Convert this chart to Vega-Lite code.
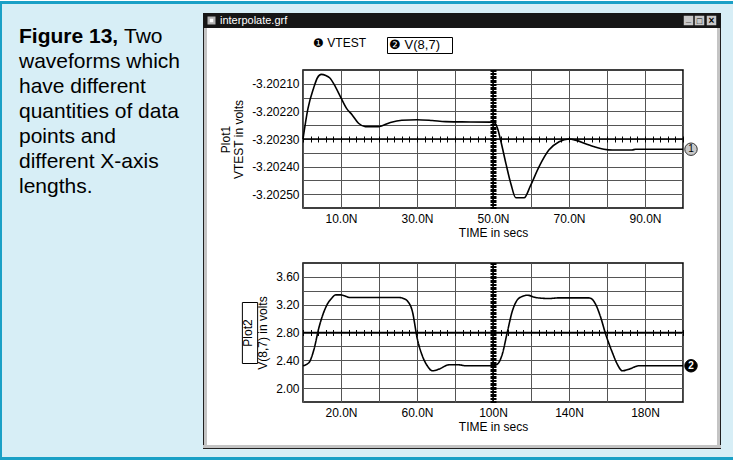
{
 "$schema": "https://vega.github.io/schema/vega-lite/v6.json",
 "background": "#ffffff",
 "padding": {"left": 0, "top": 1, "right": 0, "bottom": 2},
 "autosize": {"type": "pad"},
 "spacing": 0,
 "config": {
  "view": {"stroke": null},
  "concat": {"spacing": 0},
  "font": "Liberation Sans",
  "axis": {"labelColor": "#000", "titleColor": "#000", "labelFont": "Liberation Sans", "titleFont": "Liberation Sans", "labelFontSize": 12, "titleFontSize": 12, "titleFontWeight": "normal", "gridColor": "#555555", "gridOpacity": 1, "gridWidth": 1, "domain": false, "ticks": false, "tickSize": 0, "labelOverlap": false, "labelFlush": false},
  "legend": {"labelFont": "Liberation Sans", "labelFontSize": 12, "labelColor": "#000"}
 },
 "datasets": {
  "vtest": [
   {"time": 0, "vtest": -3.2023}, {"time": 1.3, "vtest": -3.20219}, {"time": 2.8, "vtest": -3.202115}, {"time": 3.8, "vtest": -3.202078},
   {"time": 4.8, "vtest": -3.202066}, {"time": 6.0, "vtest": -3.20207}, {"time": 7.0, "vtest": -3.202078}, {"time": 8.5, "vtest": -3.20211},
   {"time": 10, "vtest": -3.202151}, {"time": 11.5, "vtest": -3.20219}, {"time": 12.9, "vtest": -3.202212}, {"time": 14.6, "vtest": -3.202243},
   {"time": 16.4, "vtest": -3.202255}, {"time": 19.9, "vtest": -3.202255}, {"time": 23, "vtest": -3.20224}, {"time": 26, "vtest": -3.202232},
   {"time": 30, "vtest": -3.20223}, {"time": 34, "vtest": -3.202233}, {"time": 37.5, "vtest": -3.202237}, {"time": 41.8, "vtest": -3.202238},
   {"time": 49.5, "vtest": -3.202239}, {"time": 50.5, "vtest": -3.202242}, {"time": 51.2, "vtest": -3.202262}, {"time": 52.1, "vtest": -3.20231},
   {"time": 53.4, "vtest": -3.202389}, {"time": 54.7, "vtest": -3.202462}, {"time": 56, "vtest": -3.202513}, {"time": 58.2, "vtest": -3.202513},
   {"time": 59.9, "vtest": -3.202468}, {"time": 62.1, "vtest": -3.202401}, {"time": 64.7, "vtest": -3.20234}, {"time": 67.4, "vtest": -3.20231},
   {"time": 70, "vtest": -3.2023}, {"time": 71.7, "vtest": -3.202304}, {"time": 75.3, "vtest": -3.202322}, {"time": 79.2, "vtest": -3.202337},
   {"time": 81.4, "vtest": -3.20234}, {"time": 86.6, "vtest": -3.20234}, {"time": 87.5, "vtest": -3.202337}, {"time": 100, "vtest": -3.202337}
  ],
  "v87": [
   {"time": 0, "v87": 2.321}, {"time": 3.2, "v87": 2.369}, {"time": 5.8, "v87": 2.56}, {"time": 8.4, "v87": 2.872},
   {"time": 10.5, "v87": 3.06}, {"time": 12.8, "v87": 3.207}, {"time": 15, "v87": 3.29}, {"time": 17.2, "v87": 3.341},
   {"time": 19.8, "v87": 3.341}, {"time": 25.1, "v87": 3.303}, {"time": 33, "v87": 3.303}, {"time": 50.5, "v87": 3.303},
   {"time": 52.8, "v87": 3.29}, {"time": 54.9, "v87": 3.255}, {"time": 57.5, "v87": 3.111}, {"time": 60.2, "v87": 2.704},
   {"time": 62.8, "v87": 2.465}, {"time": 65.4, "v87": 2.321}, {"time": 68.1, "v87": 2.249}, {"time": 71.6, "v87": 2.273},
   {"time": 76.8, "v87": 2.335}, {"time": 82.1, "v87": 2.335}, {"time": 85.6, "v87": 2.321}, {"time": 99.6, "v87": 2.321},
   {"time": 102.3, "v87": 2.345}, {"time": 104.9, "v87": 2.489}, {"time": 107.5, "v87": 2.8}, {"time": 110.2, "v87": 3.111},
   {"time": 112.8, "v87": 3.269}, {"time": 115.5, "v87": 3.32}, {"time": 118.1, "v87": 3.337}, {"time": 122.5, "v87": 3.303},
   {"time": 129.5, "v87": 3.289}, {"time": 134.7, "v87": 3.298}, {"time": 150.5, "v87": 3.298}, {"time": 152.5, "v87": 3.27},
   {"time": 154, "v87": 3.207}, {"time": 156.7, "v87": 3.016}, {"time": 159.3, "v87": 2.776}, {"time": 162.8, "v87": 2.513},
   {"time": 165.4, "v87": 2.345}, {"time": 168.1, "v87": 2.249}, {"time": 171.6, "v87": 2.273}, {"time": 176.8, "v87": 2.321},
   {"time": 200, "v87": 2.321}
  ]
 },
 "vconcat": [
  {"width": 733, "height": 3, "view": {"fill": "#1aa0c6"}, "data": {"values": [{}]}, "mark": {"type": "rect", "opacity": 0}},
  {"spacing": 0, "hconcat": [
   {"width": 2, "height": 453, "view": {"fill": "#1aa0c6"}, "data": {"values": [{}]}, "mark": {"type": "rect", "opacity": 0}},
   {"width": 201, "height": 453, "view": {"fill": "#d7eef6"},
    "data": {"values": [
     {"line": 0, "text": "Figure 13,", "role": "label"},
     {"line": 0, "text": "Two", "role": "label-rest"},
     {"line": 1, "text": "waveforms which", "role": "body"},
     {"line": 2, "text": "have different", "role": "body"},
     {"line": 3, "text": "quantities of data", "role": "body"},
     {"line": 4, "text": "points and", "role": "body"},
     {"line": 5, "text": "different X-axis", "role": "body"},
     {"line": 6, "text": "lengths.", "role": "body"}
    ]},
    "encoding": {
     "y": {"field": "line", "type": "quantitative", "axis": null, "scale": {"domain": [-1.56, 16.56], "reverse": true, "nice": false, "zero": false}},
     "x": {"datum": 0, "type": "quantitative", "axis": null, "scale": {"domain": [0, 1], "nice": false}},
     "text": {"field": "text", "type": "nominal"}
    },
    "layer": [
     {"transform": [{"filter": "datum.role == 'label'"}], "mark": {"type": "text", "align": "left", "baseline": "alphabetic", "dx": 17, "fontSize": 21, "fontWeight": "bold", "font": "Liberation Sans", "color": "#000"}},
     {"transform": [{"filter": "datum.role == 'label-rest'"}], "mark": {"type": "text", "align": "left", "baseline": "alphabetic", "dx": 122, "fontSize": 21, "font": "Liberation Sans", "color": "#000"}},
     {"transform": [{"filter": "datum.role == 'body'"}], "mark": {"type": "text", "align": "left", "baseline": "alphabetic", "dx": 17, "fontSize": 21, "font": "Liberation Sans", "color": "#000"}}
    ]
   },
   {"spacing": 0, "vconcat": [
    {"width": 518, "height": 9, "view": {"fill": "#d7eef6"}, "data": {"values": [{}]}, "mark": {"type": "rect", "opacity": 0}},
    {"bounds": "flush", "spacing": 0, "hconcat": [
     {"width": 17, "height": 15, "view": {"fill": "#161616"}, "data": {"values": [{}]}, "layer": [
      {"mark": {"type": "point", "shape": "square", "filled": true, "size": 64, "color": "#b4b4b4", "opacity": 1}},
      {"mark": {"type": "point", "shape": "square", "filled": true, "size": 12, "color": "#ffffff", "opacity": 1}}
     ]},
     {"width": 463, "height": 15, "view": {"fill": "#161616"}, "data": {"values": [{"title": "interpolate.grf"}]},
      "mark": {"type": "text", "align": "left", "baseline": "middle", "fontSize": 11, "color": "#ffffff", "font": "Liberation Sans"},
      "encoding": {"text": {"field": "title", "type": "nominal"}, "x": {"datum": 0, "type": "quantitative", "axis": null, "scale": {"domain": [0, 1], "nice": false}}}},
     {"width": 11, "height": 15, "view": {"fill": "#161616"}, "data": {"values": [{}]}, "layer": [
      {"mark": {"type": "point", "shape": "square", "filled": true, "size": 90, "color": "#c8c8c8", "opacity": 1}},
      {"mark": {"type": "text", "text": "_", "fontSize": 9, "fontWeight": "bold", "color": "#000", "dy": -2}}
     ]},
     {"width": 11, "height": 15, "view": {"fill": "#161616"}, "data": {"values": [{}]}, "layer": [
      {"mark": {"type": "point", "shape": "square", "filled": true, "size": 90, "color": "#c8c8c8", "opacity": 1}},
      {"mark": {"type": "text", "text": "□", "fontSize": 9, "color": "#000"}}
     ]},
     {"width": 13, "height": 15, "view": {"fill": "#161616"}, "data": {"values": [{}]}, "layer": [
      {"mark": {"type": "point", "shape": "square", "filled": true, "size": 90, "color": "#c8c8c8", "opacity": 1}},
      {"mark": {"type": "text", "text": "×", "fontSize": 10, "fontWeight": "bold", "color": "#000"}}
     ]},
     {"width": 3, "height": 15, "view": {"fill": "#161616"}, "data": {"values": [{}]}, "mark": {"type": "rect", "opacity": 0}}
    ]},
    {"spacing": 0, "hconcat": [
     {"width": 1, "height": 417, "view": {"fill": "#202020"}, "data": {"values": [{}]}, "mark": {"type": "rect", "opacity": 0}},
     {"width": 3, "height": 417, "view": {"fill": "#c4c4c4"}, "data": {"values": [{}]}, "mark": {"type": "rect", "opacity": 0}},
     {"bounds": "flush", "spacing": 0, "columns": 4, "concat": [
      {"width": 96, "height": 42, "data": {"values": [{}]}, "mark": {"type": "rect", "opacity": 0}},
      {"width": 380, "height": 42, "data": {"values": [{}]}, "mark": {"type": "rect", "opacity": 0}},
      {"width": 16, "height": 42, "data": {"values": [{}]}, "mark": {"type": "rect", "opacity": 0}},
      {"width": 18, "height": 42, "data": {"values": [{}]}, "mark": {"type": "rect", "opacity": 0}},

      {"width": 96, "height": 138, "data": {"values": [{}]}, "mark": {"type": "rule", "opacity": 0},
       "encoding": {"y": {"datum": -3.2023, "type": "quantitative", "scale": {"domain": [-3.20255, -3.20205], "nice": false, "zero": false},
        "axis": {"orient": "left", "offset": -96, "values": [-3.2025, -3.2024, -3.2023, -3.2022, -3.2021], "labelExpr": "replace(format(datum.value, '.5f'), '\u2212', '-')", "labelPadding": 4, "title": ["Plot1", "VTEST in volts"], "titlePadding": 6, "titleLineHeight": 13, "grid": false}}}},
      {"width": 380, "height": 138,
       "view": {"stroke": "#000", "strokeWidth": 1.5},
       "resolve": {"axis": {"x": "independent", "y": "independent"}},
       "layer": [
        {"data": {"name": "vtest"},
         "mark": {"type": "line", "strokeWidth": 1.6, "interpolate": "monotone"},
         "encoding": {
          "x": {"field": "time", "type": "quantitative", "scale": {"domain": [0, 100], "nice": false, "zero": false},
                "axis": {"orient": "bottom", "values": [0, 10, 20, 30, 40, 50, 60, 70, 80, 90, 100], "grid": true, "labels": false, "title": null}},
          "y": {"field": "vtest", "type": "quantitative", "scale": {"domain": [-3.20255, -3.20205], "nice": false, "zero": false},
                "axis": {"orient": "left", "values": [-3.2025, -3.20245, -3.2024, -3.20235, -3.2023, -3.20225, -3.2022, -3.20215, -3.2021], "grid": true, "labels": false, "title": null}},
          "color": {"datum": "VTEST", "type": "nominal", "scale": {"range": ["#000000"]},
                    "legend": {"orient": "none", "legendX": 313, "legendY": 36, "title": null, "symbolSize": 0, "symbolOpacity": 0, "symbolStrokeWidth": 0, "labelOffset": -12, "padding": 0, "labelFontSize": 12, "labelExpr": "'❶ ' + datum.label"}}
         }},
        {"data": {"values": [{}]}, "mark": {"type": "rule", "color": "#000", "strokeWidth": 1.5},
         "encoding": {"y": {"datum": -3.2023, "type": "quantitative",
           "axis": {"orient": "left", "offset": -193, "ticks": true, "tickSize": 6, "tickCount": 100, "tickColor": "#000", "tickWidth": 1, "labels": false, "grid": false, "domain": false, "title": null, "zindex": 1}}}},
        {"data": {"values": [{}]}, "mark": {"type": "rule", "color": "#000", "strokeWidth": 1.5},
         "encoding": {"x": {"datum": 50, "type": "quantitative",
           "axis": {"orient": "bottom", "offset": -72, "ticks": true, "tickSize": 6, "tickCount": 50, "tickColor": "#000", "tickWidth": 1, "labels": false, "grid": false, "domain": false, "title": null, "zindex": 1}}}}
       ]
      },
      {"width": 16, "height": 138, "data": {"name": "vtest"}, "transform": [{"filter": "datum.time == 100"}],
       "encoding": {"y": {"field": "vtest", "type": "quantitative", "scale": {"domain": [-3.20255, -3.20205], "nice": false, "zero": false}, "axis": null}},
       "layer": [
        {"mark": {"type": "point", "filled": true, "size": 155, "fill": "#c8c8c8", "stroke": "#333333", "strokeWidth": 1, "opacity": 1}},
        {"mark": {"type": "text", "text": "1", "fontSize": 10, "color": "#000"}}
       ]},
      {"width": 18, "height": 138, "data": {"values": [{}]}, "mark": {"type": "rect", "opacity": 0}},

      {"width": 96, "height": 55, "data": {"values": [{}]}, "mark": {"type": "rect", "opacity": 0}},
      {"width": 380, "height": 55, "data": {"values": [{}]}, "mark": {"type": "rule", "opacity": 0},
       "encoding": {"x": {"datum": 50, "type": "quantitative", "scale": {"domain": [0, 100], "nice": false, "zero": false},
        "axis": {"orient": "bottom", "offset": -55, "values": [10, 30, 50, 70, 90], "labelExpr": "format(datum.value, '.3r') + 'N'", "labelPadding": 5, "title": "TIME in secs", "titlePadding": 3, "grid": false}}}},
      {"width": 16, "height": 55, "data": {"values": [{}]}, "mark": {"type": "rect", "opacity": 0}},
      {"width": 18, "height": 55, "data": {"values": [{}]}, "mark": {"type": "rect", "opacity": 0}},

      {"width": 96, "height": 139, "data": {"values": [{}]}, "mark": {"type": "rule", "opacity": 0},
       "encoding": {"y": {"datum": 2.8, "type": "quantitative", "scale": {"domain": [1.8, 3.8], "nice": false, "zero": false},
        "axis": {"orient": "left", "offset": -96, "values": [2, 2.4, 2.8, 3.2, 3.6], "labelExpr": "format(datum.value, '.2f')", "labelPadding": 4, "title": ["Plot2", "V(8,7) in volts"], "titlePadding": 6, "titleLineHeight": 15, "grid": false}}}},
      {"width": 380, "height": 139,
       "view": {"stroke": "#000", "strokeWidth": 1.5},
       "resolve": {"axis": {"x": "independent", "y": "independent"}},
       "layer": [
        {"data": {"name": "v87"},
         "mark": {"type": "line", "strokeWidth": 1.6, "interpolate": "monotone", "color": "#000"},
         "encoding": {
          "x": {"field": "time", "type": "quantitative", "scale": {"domain": [0, 200], "nice": false, "zero": false},
                "axis": {"orient": "bottom", "values": [0, 20, 40, 60, 80, 100, 120, 140, 160, 180, 200], "grid": true, "labels": false, "title": null}},
          "y": {"field": "v87", "type": "quantitative", "scale": {"domain": [1.8, 3.8], "nice": false, "zero": false},
                "axis": {"orient": "left", "values": [2, 2.2, 2.4, 2.6, 2.8, 3, 3.2, 3.4, 3.6], "grid": true, "labels": false, "title": null}},
          "strokeDash": {"datum": "V(8,7)", "type": "nominal", "scale": {"range": [[1, 0]]},
                    "legend": {"orient": "none", "legendX": 387, "legendY": 36, "title": null, "strokeColor": "#000", "padding": 1, "symbolSize": 0, "symbolOpacity": 0, "symbolStrokeWidth": 0, "labelOffset": -12, "labelFontSize": 13, "labelExpr": "'❷ ' + datum.label + '\u2800'"}}
         }},
        {"data": {"values": [{}]}, "mark": {"type": "rule", "color": "#000", "strokeWidth": 1.5},
         "encoding": {"y": {"datum": 2.8, "type": "quantitative",
           "axis": {"orient": "left", "offset": -193, "ticks": true, "tickSize": 6, "tickCount": 100, "tickColor": "#000", "tickWidth": 1, "labels": false, "grid": false, "domain": false, "title": null, "zindex": 1}}}},
        {"data": {"values": [{}]}, "mark": {"type": "rule", "color": "#000", "strokeWidth": 1.5},
         "encoding": {"x": {"datum": 100, "type": "quantitative",
           "axis": {"orient": "bottom", "offset": -72.5, "ticks": true, "tickSize": 6, "values": [0,4,8,12,16,20,24,28,32,36,40,44,48,52,56,60,64,68,72,76,80,84,88,92,96,100,104,108,112,116,120,124,128,132,136,140,144,148,152,156,160,164,168,172,176,180,184,188,192,196,200], "tickColor": "#000", "tickWidth": 1, "labels": false, "grid": false, "domain": false, "title": null, "zindex": 1}}}}
       ]
      },
      {"width": 16, "height": 139, "data": {"name": "v87"}, "transform": [{"filter": "datum.time == 200"}],
       "encoding": {"y": {"field": "v87", "type": "quantitative", "scale": {"domain": [1.8, 3.8], "nice": false, "zero": false}, "axis": null}},
       "layer": [
        {"mark": {"type": "point", "filled": true, "size": 155, "fill": "#000", "stroke": "#000", "strokeWidth": 1, "opacity": 1}},
        {"mark": {"type": "text", "text": "2", "fontSize": 10, "fontWeight": "bold", "color": "#fff"}},
        {"mark": {"type": "point", "filled": false, "color": "#000", "opacity": 0},
         "encoding": {"strokeWidth": {"datum": "Plot2", "type": "ordinal", "scale": {"range": [1, 1]},
          "legend": {"orient": "none", "legendX": 219, "legendY": 301, "title": null, "labelExpr": "''", "symbolType": "M-0.25,-1L0.25,-1L0.25,1L-0.25,1Z", "symbolSize": 3721, "symbolFillColor": "transparent", "symbolStrokeColor": "#000", "symbolOpacity": 1, "labelOffset": 0, "padding": 0}}}}
       ]},
      {"width": 18, "height": 139, "data": {"values": [{}]}, "mark": {"type": "rect", "opacity": 0}},

      {"width": 96, "height": 43, "data": {"values": [{}]}, "mark": {"type": "rect", "opacity": 0}},
      {"width": 380, "height": 43, "data": {"values": [{}]}, "mark": {"type": "rule", "opacity": 0},
       "encoding": {"x": {"datum": 100, "type": "quantitative", "scale": {"domain": [0, 200], "nice": false, "zero": false},
        "axis": {"orient": "bottom", "offset": -43, "values": [20, 60, 100, 140, 180], "labelExpr": "format(datum.value, '.3r') + 'N'", "labelPadding": 5, "title": "TIME in secs", "titlePadding": 3, "grid": false}}}},
      {"width": 16, "height": 43, "data": {"values": [{}]}, "mark": {"type": "rect", "opacity": 0}},
      {"width": 18, "height": 43, "data": {"values": [{}]}, "mark": {"type": "rect", "opacity": 0}}
     ]},
     {"width": 3, "height": 417, "view": {"fill": "#c4c4c4"}, "data": {"values": [{}]}, "mark": {"type": "rect", "opacity": 0}},
     {"width": 1, "height": 417, "view": {"fill": "#202020"}, "data": {"values": [{}]}, "mark": {"type": "rect", "opacity": 0}}
    ]},
    {"width": 518, "height": 3, "view": {"fill": "#c4c4c4"}, "data": {"values": [{}]}, "mark": {"type": "rect", "opacity": 0}},
    {"width": 518, "height": 1, "view": {"fill": "#202020"}, "data": {"values": [{}]}, "mark": {"type": "rect", "opacity": 0}},
    {"width": 518, "height": 8, "view": {"fill": "#d7eef6"}, "data": {"values": [{}]}, "mark": {"type": "rect", "opacity": 0}}
   ]},
   {"width": 12, "height": 453, "view": {"fill": "#d7eef6"}, "data": {"values": [{}]}, "mark": {"type": "rect", "opacity": 0}}
  ]},
  {"width": 733, "height": 3, "view": {"fill": "#1aa0c6"}, "data": {"values": [{}]}, "mark": {"type": "rect", "opacity": 0}}
 ]
}
